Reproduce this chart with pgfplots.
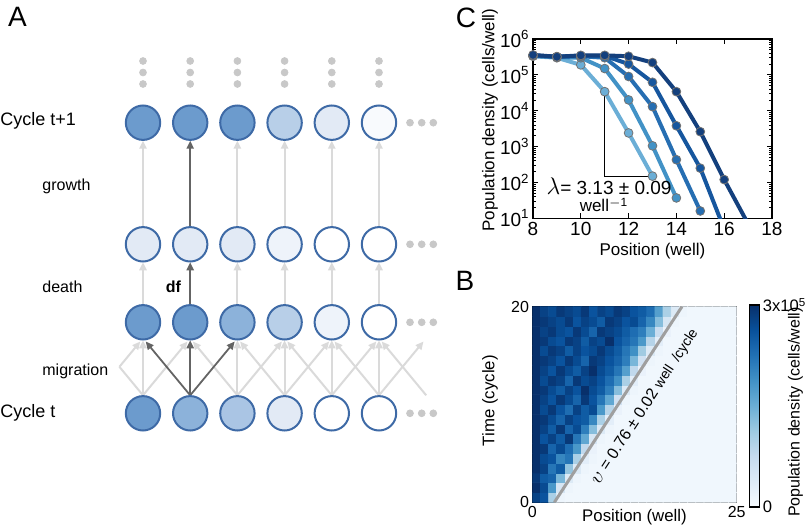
\documentclass[border=0pt]{standalone}
\usepackage{fontspec}
\setmainfont{Liberation Sans}
\usepackage{pgfplots}
\pgfplotsset{compat=1.18}
\usetikzlibrary{arrows.meta}

\definecolor{edgeblue}{RGB}{62,106,166}
\definecolor{fa}{RGB}{108,155,205}
\definecolor{fb}{RGB}{140,178,218}
\definecolor{fc}{RGB}{170,197,228}
\definecolor{fd}{RGB}{184,207,232}
\definecolor{fe}{RGB}{226,234,245}
\definecolor{ff}{RGB}{238,243,250}
\definecolor{fg}{RGB}{248,250,253}
\definecolor{lightarr}{RGB}{218,218,218}
\definecolor{darkarr}{RGB}{100,100,100}
\definecolor{dotgray}{RGB}{200,200,200}
\definecolor{ca}{RGB}{107,174,214}
\definecolor{cb}{RGB}{66,146,198}
\definecolor{cc}{RGB}{38,110,178}
\definecolor{cd}{RGB}{22,86,158}
\definecolor{ce}{RGB}{20,64,125}

\newcommand{\fs}{\fontsize{8}{9.6}\selectfont}
\newcommand{\ft}{\fontsize{9.5}{11}\selectfont}

\pgfplotsset{
  /pgf/number format/assume math mode=true,
  circ/.style={only marks, mark=*, mark size=8.6pt,
    mark options={draw=edgeblue, line width=1pt, fill=#1}},
  larr/.style={lightarr, line width=1pt, -{Triangle[length=4pt,width=3.6pt]},
    quiver={u=\thisrow{u}, v=\thisrow{v}}},
  darr/.style={darkarr, line width=0.9pt, -{Triangle[length=4pt,width=3.6pt]},
    quiver={u=\thisrow{u}, v=\thisrow{v}}},
}

\begin{document}
\begin{tikzpicture}
\useasboundingbox (0,0) rectangle (402.5pt,263.5pt);

% ---- panel A (diagram, coordinates in pixels of the reference)
\begin{axis}[at={(0pt,0pt)}, anchor=south west, scale only axis,
  width=402.5pt, height=263.5pt, xmin=0, xmax=805, ymin=0, ymax=527,
  y dir=reverse, hide axis, clip=false]
% light arrows
\addplot[larr] table {
x y u v
143 226.3 0 -85.6
237.4 226.3 0 -85.6
284.6 226.3 0 -85.6
331.8 226.3 0 -85.6
379 226.3 0 -85.6
143 304.3 0 -42
237.4 304.3 0 -42
284.6 304.3 0 -42
331.8 304.3 0 -42
379 304.3 0 -42
143 395.3 0 -55
237.4 395.3 0 -55
284.6 395.3 0 -55
331.8 395.3 0 -55
379 395.3 0 -55
143 395.3 44.5 -53.8
237.4 395.3 44.5 -53.8
284.6 395.3 44.5 -53.8
331.8 395.3 44.5 -53.8
379 395.3 44.5 -53.8
237.4 395.3 -44.5 -53.8
284.6 395.3 -44.5 -53.8
331.8 395.3 -44.5 -53.8
379 395.3 -44.5 -53.8
426.2 395.3 -44.5 -53.8
119.4 366.8 20.9 -25.3
};
\addplot[lightarr, line width=1pt] coordinates {(143,395.3) (119.4,366.8)};
% dark arrows
\addplot[darr] table {
x y u v
190.2 226.3 0 -85.6
190.2 304.3 0 -42
190.2 395.3 0 -55
190.2 395.3 -44.5 -53.8
190.2 395.3 44.5 -53.8
};
% circles
\addplot[circ=fa] coordinates {(143,122.7) (190.2,122.7) (237.4,122.7) (143,322.3) (190.2,322.3) (143,413.3)};
\addplot[circ=fb] coordinates {(237.4,322.3) (190.2,413.3)};
\addplot[circ=fc] coordinates {(237.4,413.3)};
\addplot[circ=fd] coordinates {(284.6,122.7) (284.6,322.3)};
\addplot[circ=fe] coordinates {(331.8,122.7) (143,244.3) (190.2,244.3) (237.4,244.3) (284.6,413.3)};
\addplot[circ=ff] coordinates {(284.6,244.3) (331.8,322.3)};
\addplot[circ=fg] coordinates {(379,122.7)};
\addplot[circ=white] coordinates {(331.8,244.3) (379,244.3) (379,322.3) (331.8,413.3) (379,413.3)};
% grey dots
\addplot[only marks, mark=*, mark size=1.7pt, dotgray] coordinates {
(143,61) (143,72.5) (143,84) (190.2,61) (190.2,72.5) (190.2,84)
(237.4,61) (237.4,72.5) (237.4,84) (284.6,61) (284.6,72.5) (284.6,84)
(331.8,61) (331.8,72.5) (331.8,84) (379,61) (379,72.5) (379,84)
(410,122.7) (421.7,122.7) (433.3,122.7) (410,244.3) (421.7,244.3) (433.3,244.3)
(410,322.3) (421.7,322.3) (433.3,322.3) (410,413.3) (421.7,413.3) (433.3,413.3)};
% texts
\node[font=\fontsize{6.5}{7}\selectfont\bfseries] at (143,322.3) {m/2};
\node[font=\fontsize{6.5}{7}\selectfont\bfseries] at (190.2,322.3) {1-m};
\node[font=\fontsize{6.5}{7}\selectfont\bfseries] at (237.4,322.3) {m/2};
\node[anchor=west, inner sep=0pt, font=\fontsize{9}{10}\selectfont] at (0,121) {Cycle t+1};
\node[anchor=west, inner sep=0pt, font=\fs] at (42,186) {growth};
\node[anchor=west, inner sep=0pt, font=\fs] at (42,287) {death};
\node[font=\fs\bfseries] at (173.5,287) {df};
\node[anchor=west, inner sep=0pt, font=\fs] at (42,371) {migration};
\node[anchor=west, inner sep=0pt, font=\fontsize{9}{10}\selectfont] at (0,413) {Cycle t};
\node[font=\fontsize{14}{14}\selectfont] at (17.5,17) {A};
\node[font=\fontsize{14}{14}\selectfont] at (466,17.5) {C};
\node[font=\fontsize{14}{14}\selectfont] at (465,281) {B};
% colorbar label of panel B
\node[rotate=90, inner sep=0pt, font=\fontsize{8}{9}\selectfont] at (795.5,412) {Population density (cells/well)};
\end{axis}

% ---- panel C
\begin{axis}[at={(266.5pt,154.35pt)}, anchor=south west, scale only axis,
  width=119.5pt, height=89.65pt, ymode=log,
  xmin=8, xmax=18, ymin=10, ymax=1000000,
  xtick={8,10,12,14,16,18},
  ytick={10,100,1000,10000,100000,1000000},
  yticklabels={10\textsuperscript{1},10\textsuperscript{2},10\textsuperscript{3},10\textsuperscript{4},10\textsuperscript{5},10\textsuperscript{6}},
  tick align=inside, major tick length=2.5pt, minor tick length=1.3pt,
  tick label style={font=\ft},
  xticklabel style={inner sep=0pt, anchor=north, yshift=-1.8pt},
  yticklabel style={inner sep=0pt, anchor=east, xshift=-1.5pt},
  label style={font=\fontsize{8.5}{10}\selectfont},
  xlabel style={at={(axis description cs:0.5,-0.181)}, anchor=center},
  ylabel style={at={(axis description cs:-0.18,0.548)}, anchor=center},
  axis line style={line width=0.6pt}, every tick/.style={black, line width=0.4pt},
  xlabel={Position (well)}, ylabel={Population density (cells/well)},
  every axis plot/.append style={line width=2pt, mark=*, mark size=2.2pt},
]
\addplot[ca, mark options={fill=ca, draw=black!55, line width=0.4pt}] coordinates {
(8,330000) (9,300000) (10,190000) (11,34000) (12,2400) (13,150)};
\addplot[cb, mark options={fill=cb, draw=black!55, line width=0.4pt}] coordinates {
(8,340000) (9,310000) (10,300000) (11,150000) (12,20000) (13,1050) (14,37)};
\addplot[cc, mark options={fill=cc, draw=black!55, line width=0.4pt}] coordinates {
(8,340000) (9,320000) (10,330000) (11,300000) (12,90000) (13,13000) (14,430) (15,16)};
\addplot[cd, mark options={fill=cd, draw=black!55, line width=0.4pt}] coordinates {
(8,350000) (9,320000) (10,340000) (11,340000) (12,200000) (13,62000) (14,3800) (15,250) (16,5)};
\addplot[ce, mark options={fill=ce, draw=black!55, line width=0.4pt}] coordinates {
(8,360000) (9,320000) (10,350000) (11,350000) (12,330000) (13,220000) (14,34000) (15,2600) (16,120) (17,7)};
\addplot[black, line width=0.5pt, mark=none] coordinates {(11,34000) (11,145) (13,145)};
\node[anchor=west, inner sep=0pt] at (axis cs:8.55,77)
  {{\fontsize{12}{12}\selectfont$\lambda$}{\ft= 3.13 ± 0.09}};
\node[inner sep=0pt, font=\fontsize{8.5}{9}\selectfont] at (axis cs:10.97,23.4) {well\textsuperscript{$-$1}};
\end{axis}

% ---- panel B
\begin{axis}[at={(266.15pt,12.35pt)}, anchor=south west, scale only axis,
  width=102.2pt, height=97.8pt, enlargelimits=false,
  xmin=0, xmax=25, ymin=0, ymax=20, xtick={0,25}, ytick={0,20},
  tick align=inside, major tick length=2pt,
  tick label style={font=\fs},
  xticklabel style={inner sep=0pt, anchor=north, yshift=-2pt},
  yticklabel style={inner sep=0pt, anchor=east, xshift=-1.5pt},
  label style={font=\fontsize{8.4}{10}\selectfont},
  xlabel style={at={(axis description cs:0.5,-0.078)}, anchor=center},
  ylabel style={at={(axis description cs:-0.207,0.52)}, anchor=center},
  axis line style={line width=0.6pt}, every tick/.style={black, line width=0.4pt},
  xlabel={Position (well)}, ylabel={Time (cycle)},
  colormap={blues}{rgb255(0)=(247,251,255) rgb255(1)=(222,235,247) rgb255(2)=(198,219,239)
    rgb255(3)=(158,202,225) rgb255(4)=(107,174,214) rgb255(5)=(66,146,198)
    rgb255(6)=(33,113,181) rgb255(7)=(8,81,156) rgb255(8)=(8,48,107)},
  point meta min=0, point meta max=30,
  colorbar,
  colorbar style={at={(parent axis.north east)}, anchor=north west, xshift=-2.2pt, yshift=0.85pt,
    scale only axis, width=5pt, height=101pt, ytick={0,30}, yticklabels={0,3x10\textsuperscript{5}},
    major tick length=0pt, yticklabel pos=right,
    yticklabel style={font=\fontsize{8.3}{9}\selectfont, inner sep=0pt, anchor=west, xshift=1.5pt},
    axis line style={line width=0.6pt}},
]
\addplot[matrix plot*, mesh/cols=25, point meta=explicit] table[meta=c, row sep=\\] {
x y c\\
0.5 0.5 28\\1.5 0.5 26\\2.5 0.5 10\\3.5 0.5 1.5\\4.5 0.5 1\\5.5 0.5 1\\6.5 0.5 1\\7.5 0.5 1\\8.5 0.5 1\\9.5 0.5 1\\10.5 0.5 1\\11.5 0.5 1\\12.5 0.5 1\\13.5 0.5 1\\14.5 0.5 1\\15.5 0.5 1\\16.5 0.5 1\\17.5 0.5 1\\18.5 0.5 1\\19.5 0.5 1\\20.5 0.5 1\\21.5 0.5 1\\22.5 0.5 1\\23.5 0.5 1\\24.5 0.5 1\\
0.5 1.5 30\\1.5 1.5 27\\2.5 1.5 18\\3.5 1.5 5\\4.5 1.5 1.5\\5.5 1.5 1\\6.5 1.5 1\\7.5 1.5 1\\8.5 1.5 1\\9.5 1.5 1\\10.5 1.5 1\\11.5 1.5 1\\12.5 1.5 1\\13.5 1.5 1\\14.5 1.5 1\\15.5 1.5 1\\16.5 1.5 1\\17.5 1.5 1\\18.5 1.5 1\\19.5 1.5 1\\20.5 1.5 1\\21.5 1.5 1\\22.5 1.5 1\\23.5 1.5 1\\24.5 1.5 1\\
0.5 2.5 29\\1.5 2.5 25\\2.5 2.5 24\\3.5 2.5 14\\4.5 2.5 4\\5.5 2.5 1.5\\6.5 2.5 1\\7.5 2.5 1\\8.5 2.5 1\\9.5 2.5 1\\10.5 2.5 1\\11.5 2.5 1\\12.5 2.5 1\\13.5 2.5 1\\14.5 2.5 1\\15.5 2.5 1\\16.5 2.5 1\\17.5 2.5 1\\18.5 2.5 1\\19.5 2.5 1\\20.5 2.5 1\\21.5 2.5 1\\22.5 2.5 1\\23.5 2.5 1\\24.5 2.5 1\\
0.5 3.5 30\\1.5 3.5 28\\2.5 3.5 22\\3.5 3.5 25\\4.5 3.5 12\\5.5 3.5 4\\6.5 3.5 1.5\\7.5 3.5 1\\8.5 3.5 1\\9.5 3.5 1\\10.5 3.5 1\\11.5 3.5 1\\12.5 3.5 1\\13.5 3.5 1\\14.5 3.5 1\\15.5 3.5 1\\16.5 3.5 1\\17.5 3.5 1\\18.5 3.5 1\\19.5 3.5 1\\20.5 3.5 1\\21.5 3.5 1\\22.5 3.5 1\\23.5 3.5 1\\24.5 3.5 1\\
0.5 4.5 31\\1.5 4.5 27\\2.5 4.5 26\\3.5 4.5 20\\4.5 4.5 22\\5.5 4.5 10\\6.5 4.5 3\\7.5 4.5 1.5\\8.5 4.5 1\\9.5 4.5 1\\10.5 4.5 1\\11.5 4.5 1\\12.5 4.5 1\\13.5 4.5 1\\14.5 4.5 1\\15.5 4.5 1\\16.5 4.5 1\\17.5 4.5 1\\18.5 4.5 1\\19.5 4.5 1\\20.5 4.5 1\\21.5 4.5 1\\22.5 4.5 1\\23.5 4.5 1\\24.5 4.5 1\\
0.5 5.5 30\\1.5 5.5 29\\2.5 5.5 24\\3.5 5.5 27\\4.5 5.5 23\\5.5 5.5 18\\6.5 5.5 8\\7.5 5.5 2\\8.5 5.5 1\\9.5 5.5 1\\10.5 5.5 1\\11.5 5.5 1\\12.5 5.5 1\\13.5 5.5 1\\14.5 5.5 1\\15.5 5.5 1\\16.5 5.5 1\\17.5 5.5 1\\18.5 5.5 1\\19.5 5.5 1\\20.5 5.5 1\\21.5 5.5 1\\22.5 5.5 1\\23.5 5.5 1\\24.5 5.5 1\\
0.5 6.5 31\\1.5 6.5 26\\2.5 6.5 28\\3.5 6.5 25\\4.5 6.5 29\\5.5 6.5 22\\6.5 6.5 16\\7.5 6.5 5\\8.5 6.5 1.5\\9.5 6.5 1\\10.5 6.5 1\\11.5 6.5 1\\12.5 6.5 1\\13.5 6.5 1\\14.5 6.5 1\\15.5 6.5 1\\16.5 6.5 1\\17.5 6.5 1\\18.5 6.5 1\\19.5 6.5 1\\20.5 6.5 1\\21.5 6.5 1\\22.5 6.5 1\\23.5 6.5 1\\24.5 6.5 1\\
0.5 7.5 30\\1.5 7.5 28\\2.5 7.5 25\\3.5 7.5 29\\4.5 7.5 24\\5.5 7.5 27\\6.5 7.5 21\\7.5 7.5 13\\8.5 7.5 4\\9.5 7.5 1.5\\10.5 7.5 1\\11.5 7.5 1\\12.5 7.5 1\\13.5 7.5 1\\14.5 7.5 1\\15.5 7.5 1\\16.5 7.5 1\\17.5 7.5 1\\18.5 7.5 1\\19.5 7.5 1\\20.5 7.5 1\\21.5 7.5 1\\22.5 7.5 1\\23.5 7.5 1\\24.5 7.5 1\\
0.5 8.5 31\\1.5 8.5 29\\2.5 8.5 27\\3.5 8.5 24\\4.5 8.5 28\\5.5 8.5 26\\6.5 8.5 25\\7.5 8.5 20\\8.5 8.5 10\\9.5 8.5 3\\10.5 8.5 1\\11.5 8.5 1\\12.5 8.5 1\\13.5 8.5 1\\14.5 8.5 1\\15.5 8.5 1\\16.5 8.5 1\\17.5 8.5 1\\18.5 8.5 1\\19.5 8.5 1\\20.5 8.5 1\\21.5 8.5 1\\22.5 8.5 1\\23.5 8.5 1\\24.5 8.5 1\\
0.5 9.5 30\\1.5 9.5 27\\2.5 9.5 29\\3.5 9.5 26\\4.5 9.5 23\\5.5 9.5 28\\6.5 9.5 25\\7.5 9.5 27\\8.5 9.5 18\\9.5 9.5 9\\10.5 9.5 2\\11.5 9.5 1\\12.5 9.5 1\\13.5 9.5 1\\14.5 9.5 1\\15.5 9.5 1\\16.5 9.5 1\\17.5 9.5 1\\18.5 9.5 1\\19.5 9.5 1\\20.5 9.5 1\\21.5 9.5 1\\22.5 9.5 1\\23.5 9.5 1\\24.5 9.5 1\\
0.5 10.5 31\\1.5 10.5 28\\2.5 10.5 26\\3.5 10.5 29\\4.5 10.5 27\\5.5 10.5 24\\6.5 10.5 29\\7.5 10.5 26\\8.5 10.5 22\\9.5 10.5 16\\10.5 10.5 6\\11.5 10.5 1.5\\12.5 10.5 1\\13.5 10.5 1\\14.5 10.5 1\\15.5 10.5 1\\16.5 10.5 1\\17.5 10.5 1\\18.5 10.5 1\\19.5 10.5 1\\20.5 10.5 1\\21.5 10.5 1\\22.5 10.5 1\\23.5 10.5 1\\24.5 10.5 1\\
0.5 11.5 30\\1.5 11.5 29\\2.5 11.5 27\\3.5 11.5 25\\4.5 11.5 28\\5.5 11.5 26\\6.5 11.5 30\\7.5 11.5 27\\8.5 11.5 25\\9.5 11.5 21\\10.5 11.5 13\\11.5 11.5 4\\12.5 11.5 1.5\\13.5 11.5 1\\14.5 11.5 1\\15.5 11.5 1\\16.5 11.5 1\\17.5 11.5 1\\18.5 11.5 1\\19.5 11.5 1\\20.5 11.5 1\\21.5 11.5 1\\22.5 11.5 1\\23.5 11.5 1\\24.5 11.5 1\\
0.5 12.5 31\\1.5 12.5 27\\2.5 12.5 29\\3.5 12.5 28\\4.5 12.5 24\\5.5 12.5 29\\6.5 12.5 27\\7.5 12.5 28\\8.5 12.5 26\\9.5 12.5 23\\10.5 12.5 19\\11.5 12.5 10\\12.5 12.5 3\\13.5 12.5 1\\14.5 12.5 1\\15.5 12.5 1\\16.5 12.5 1\\17.5 12.5 1\\18.5 12.5 1\\19.5 12.5 1\\20.5 12.5 1\\21.5 12.5 1\\22.5 12.5 1\\23.5 12.5 1\\24.5 12.5 1\\
0.5 13.5 30\\1.5 13.5 28\\2.5 13.5 26\\3.5 13.5 29\\4.5 13.5 27\\5.5 13.5 25\\6.5 13.5 28\\7.5 13.5 30\\8.5 13.5 27\\9.5 13.5 25\\10.5 13.5 22\\11.5 13.5 17\\12.5 13.5 8\\13.5 13.5 2\\14.5 13.5 1\\15.5 13.5 1\\16.5 13.5 1\\17.5 13.5 1\\18.5 13.5 1\\19.5 13.5 1\\20.5 13.5 1\\21.5 13.5 1\\22.5 13.5 1\\23.5 13.5 1\\24.5 13.5 1\\
0.5 14.5 31\\1.5 14.5 29\\2.5 14.5 28\\3.5 14.5 26\\4.5 14.5 29\\5.5 14.5 27\\6.5 14.5 24\\7.5 14.5 29\\8.5 14.5 28\\9.5 14.5 26\\10.5 14.5 24\\11.5 14.5 21\\12.5 14.5 14\\13.5 14.5 6\\14.5 14.5 1.5\\15.5 14.5 1\\16.5 14.5 1\\17.5 14.5 1\\18.5 14.5 1\\19.5 14.5 1\\20.5 14.5 1\\21.5 14.5 1\\22.5 14.5 1\\23.5 14.5 1\\24.5 14.5 1\\
0.5 15.5 30\\1.5 15.5 27\\2.5 15.5 29\\3.5 15.5 28\\4.5 15.5 25\\5.5 15.5 28\\6.5 15.5 26\\7.5 15.5 27\\8.5 15.5 29\\9.5 15.5 27\\10.5 15.5 25\\11.5 15.5 22\\12.5 15.5 19\\13.5 15.5 11\\14.5 15.5 4\\15.5 15.5 1.5\\16.5 15.5 1\\17.5 15.5 1\\18.5 15.5 1\\19.5 15.5 1\\20.5 15.5 1\\21.5 15.5 1\\22.5 15.5 1\\23.5 15.5 1\\24.5 15.5 1\\
0.5 16.5 31\\1.5 16.5 29\\2.5 16.5 27\\3.5 16.5 26\\4.5 16.5 29\\5.5 16.5 28\\6.5 16.5 25\\7.5 16.5 28\\8.5 16.5 27\\9.5 16.5 30\\10.5 16.5 26\\11.5 16.5 24\\12.5 16.5 22\\13.5 16.5 18\\14.5 16.5 9\\15.5 16.5 3\\16.5 16.5 1\\17.5 16.5 1\\18.5 16.5 1\\19.5 16.5 1\\20.5 16.5 1\\21.5 16.5 1\\22.5 16.5 1\\23.5 16.5 1\\24.5 16.5 1\\
0.5 17.5 30\\1.5 17.5 28\\2.5 17.5 29\\3.5 17.5 27\\4.5 17.5 26\\5.5 17.5 29\\6.5 17.5 27\\7.5 17.5 24\\8.5 17.5 29\\9.5 17.5 28\\10.5 17.5 27\\11.5 17.5 25\\12.5 17.5 23\\13.5 17.5 21\\14.5 17.5 15\\15.5 17.5 7\\16.5 17.5 2\\17.5 17.5 1\\18.5 17.5 1\\19.5 17.5 1\\20.5 17.5 1\\21.5 17.5 1\\22.5 17.5 1\\23.5 17.5 1\\24.5 17.5 1\\
0.5 18.5 31\\1.5 18.5 29\\2.5 18.5 28\\3.5 18.5 27\\4.5 18.5 29\\5.5 18.5 26\\6.5 18.5 28\\7.5 18.5 27\\8.5 18.5 25\\9.5 18.5 29\\10.5 18.5 28\\11.5 18.5 26\\12.5 18.5 27\\13.5 18.5 24\\14.5 18.5 20\\15.5 18.5 13\\16.5 18.5 5\\17.5 18.5 1.5\\18.5 18.5 1\\19.5 18.5 1\\20.5 18.5 1\\21.5 18.5 1\\22.5 18.5 1\\23.5 18.5 1\\24.5 18.5 1\\
0.5 19.5 30\\1.5 19.5 28\\2.5 19.5 27\\3.5 19.5 29\\4.5 19.5 28\\5.5 19.5 27\\6.5 19.5 29\\7.5 19.5 26\\8.5 19.5 28\\9.5 19.5 27\\10.5 19.5 29\\11.5 19.5 28\\12.5 19.5 26\\13.5 19.5 25\\14.5 19.5 23\\15.5 19.5 17\\16.5 19.5 10\\17.5 19.5 4\\18.5 19.5 1.5\\19.5 19.5 1\\20.5 19.5 1\\21.5 19.5 1\\22.5 19.5 1\\23.5 19.5 1\\24.5 19.5 1\\
};
\addplot[gray!75, line width=1.5pt, mark=none] coordinates {(2.7,0) (18.3,20)};
\node[rotate=56.9, inner sep=0pt] at (axis cs:13.79,9.78)
  {{\fontsize{10}{10}\selectfont$\upsilon$}{\fs\ = 0.76 ± 0.02 }{\fontsize{7}{8}\selectfont well\ \ /cycle}};
\end{axis}
\end{tikzpicture}
\end{document}
